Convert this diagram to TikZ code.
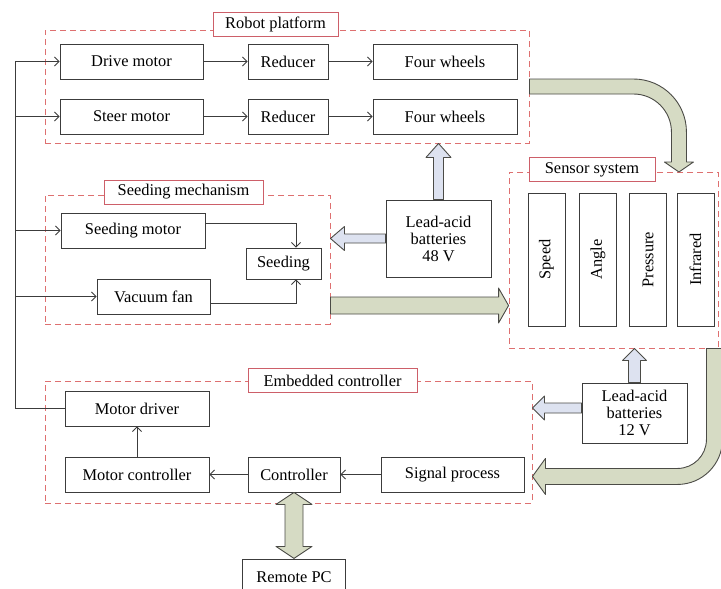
\documentclass[tikz,border=0pt]{standalone}
\usepackage{fontspec}
\setmainfont{Liberation Serif}
\usetikzlibrary{arrows.meta,calc}
\definecolor{boxgray}{RGB}{60,60,60}
\definecolor{groupred}{RGB}{222,112,112}
\definecolor{tagred}{RGB}{205,95,105}
\definecolor{flowgreen}{RGB}{214,219,196}
\definecolor{powerblue}{RGB}{221,226,240}
\definecolor{fatline}{RGB}{75,75,70}
% style, tail, tip, shaft half width, head half width, head length
\newcommand{\fatarrow}[6]{%
  \coordinate (fa-base) at ($(#3)!#6!(#2)$);
  \draw[#1] ($(#2)!#4!90:(#3)$) -- ($(fa-base)!#4!90:(#3)$) -- ($(fa-base)!#5!90:(#3)$)
    -- (#3) -- ($(fa-base)!#5!-90:(#3)$) -- ($(fa-base)!#4!-90:(#3)$) -- ($(#2)!#4!-90:(#3)$) -- cycle;}

\begin{document}
\begin{tikzpicture}[
    x=1pt, y=-1pt,
    every node/.style={font=\fontsize{16.4}{17}\selectfont},
    unit/.style={rectangle,draw=boxgray,line width=0.9pt,fill=white,inner sep=0pt,
      minimum height=35pt,align=center},
    group/.style={rectangle,draw=groupred,line width=0.9pt,dash pattern=on 6pt off 4pt,inner sep=0pt},
    tag/.style={rectangle,draw=tagred,line width=0.8pt,fill=white,inner sep=0pt,minimum height=24pt},
    link/.style={-{Straight Barb[length=4.5pt,width=9pt]},draw=boxgray,line width=0.9pt},
    fatg/.style={draw=fatline,line width=0.9pt,fill=flowgreen,line join=round},
    fatb/.style={draw=fatline,line width=0.9pt,fill=powerblue,line join=round}
  ]
    \useasboundingbox (0,0) rectangle (721,589);

    % dashed groups
    \node[group,minimum width=484pt,minimum height=113pt] (platform) at (287,86.5) {};
    \node[group,minimum width=285pt,minimum height=129pt] (seedmech) at (187.5,259.5) {};
    \node[group,minimum width=209pt,minimum height=176pt] (sensors) at (613.5,260) {};
    \node[group,minimum width=487pt,minimum height=122pt] (embedded) at (288.5,442) {};

    % robot platform
    \node[unit,minimum width=143pt] (drive) at (131.5,61.5) {Drive motor};
    \node[unit,minimum width=80pt] (red1) at (288,61.5) {Reducer};
    \node[unit,minimum width=144pt] (wheel1) at (445,61.5) {Four wheels};
    \node[unit,minimum width=143pt] (steer) at (131.5,116.5) {Steer motor};
    \node[unit,minimum width=80pt] (red2) at (288,116.5) {Reducer};
    \node[unit,minimum width=144pt] (wheel2) at (445,116.5) {Four wheels};

    % seeding mechanism
    \node[unit,minimum width=144pt] (seedmotor) at (133,230.5) {Seeding motor};
    \node[unit,minimum width=75pt,minimum height=31pt] (seeding) at (283.5,263.5) {Seeding};
    \node[unit,minimum width=113pt] (vacfan) at (153.5,296.5) {Vacuum fan};

    % power
    \node[unit,minimum width=105pt,minimum height=77pt] (bat48) at (438.5,238.5) {Lead-acid\\batteries\\48 V};
    \node[unit,minimum width=105pt,minimum height=60pt] (bat12) at (634.5,413) {Lead-acid\\batteries\\12 V};

    % sensor system
    \node[unit,rotate=90,minimum width=133pt,minimum height=37pt] (speed) at (546.5,259.5) {Speed};
    \node[unit,rotate=90,minimum width=133pt,minimum height=37pt] (angle) at (598,259.5) {Angle};
    \node[unit,rotate=90,minimum width=133pt,minimum height=37pt] (pressure) at (648,259.5) {Pressure};
    \node[unit,rotate=90,minimum width=133pt,minimum height=37pt] (infrared) at (695.5,259.5) {Infrared};

    % embedded controller
    \node[unit,minimum width=144pt] (mdriver) at (137,408.5) {Motor driver};
    \node[unit,minimum width=144pt] (mctrl) at (137,474.5) {Motor controller};
    \node[unit,minimum width=92pt] (controller) at (294,474.5) {Controller};
    \node[unit,minimum width=143pt] (sigproc) at (452.5,474.5) {Signal process};
    \node[unit,minimum width=103pt,minimum height=36pt] (remotepc) at (294,577) {Remote PC};

    % fat arrows
    \coordinate (b48top) at (bat48.north |- platform.south);
    \coordinate (b48left) at (bat48.west -| seedmech.east);
    \coordinate (b12top) at (bat12.north |- sensors.south);
    \coordinate (b12tail) at ([yshift=5pt]bat12.west);
    \coordinate (b12left) at (b12tail -| embedded.east);
    \coordinate (seedout) at ([yshift=-46pt]seedmech.east);
    \coordinate (seedin) at (seedout -| sensors.west);
    \fatarrow{fatb}{bat48.north}{b48top}{5pt}{12.5pt}{14pt}
    \fatarrow{fatb}{bat48.west}{b48left}{4.5pt}{12pt}{14pt}
    \fatarrow{fatb}{bat12.north}{b12top}{6pt}{12pt}{12pt}
    \fatarrow{fatb}{b12tail}{b12left}{5pt}{12pt}{12pt}
    \fatarrow{fatg}{seedout}{seedin}{8.5pt}{17.5pt}{10pt}
    \draw[fatg] ([yshift=7.5pt]platform.east) -- ++(104,0) arc[start angle=90,end angle=0,radius=53pt]
      -- ++(0,30) -- ++(7,0) -- ++(-14.5,10) -- ++(-14.5,-10) -- ++(7,0) -- ++(0,-30)
      arc[start angle=0,end angle=90,radius=38pt] -- ++(-104,0) -- cycle;
    \draw[fatg] ([xshift=-12pt]sensors.south east) -- ++(0,91) arc[start angle=0,end angle=-90,radius=29pt]
      -- ++(-132,0) -- ++(0,-10) -- ++(-13,18) -- ++(13,18) -- ++(0,-10) -- ++(132,0)
      arc[start angle=-90,end angle=0,radius=45pt] -- ++(0,-91) -- cycle;
    \draw[fatg] (controller.south) -- ++(18,12) -- ++(-9,0) -- ++(0,42) -- ++(9,0) -- ++(-18,12)
      -- ++(-18,-12) -- ++(9,0) -- ++(0,-42) -- ++(-9,0) -- cycle;

    % group titles
    \node[tag,minimum width=125pt] (platformtag) at (275.5,24) {Robot platform};
    \node[tag,minimum width=159pt] (seedtag) at (183.5,192) {Seeding mechanism};
    \node[tag,minimum width=126pt] (sensortag) at (592,169.5) {Sensor system};
    \node[tag,minimum width=169pt] (embeddedtag) at (332.5,380.5) {Embedded controller};

    % signal links
    \coordinate (bus) at (15,0);
    \draw[link] (mdriver.west) -| (bus |- drive.west) -- (drive.west);
    \draw[link] (bus |- steer.west) -- (steer.west);
    \draw[link] (bus |- seedmotor.west) -- (seedmotor.west);
    \draw[link] (bus |- vacfan.west) -- (vacfan.west);
    \draw[link] (drive) -- (red1);
    \draw[link] (red1) -- (wheel1);
    \draw[link] (steer) -- (red2);
    \draw[link] (red2) -- (wheel2);
    \draw[link] ([yshift=7.5pt]seedmotor.east) -| ([xshift=12.5pt]seeding.north);
    \draw[link] ([yshift=-6.5pt]vacfan.east) -| ([xshift=12.5pt]seeding.south);
    \draw[link] (sigproc) -- (controller);
    \draw[link] (controller) -- (mctrl);
    \draw[link] (mctrl) -- (mdriver);
  \end{tikzpicture}
\end{document}
